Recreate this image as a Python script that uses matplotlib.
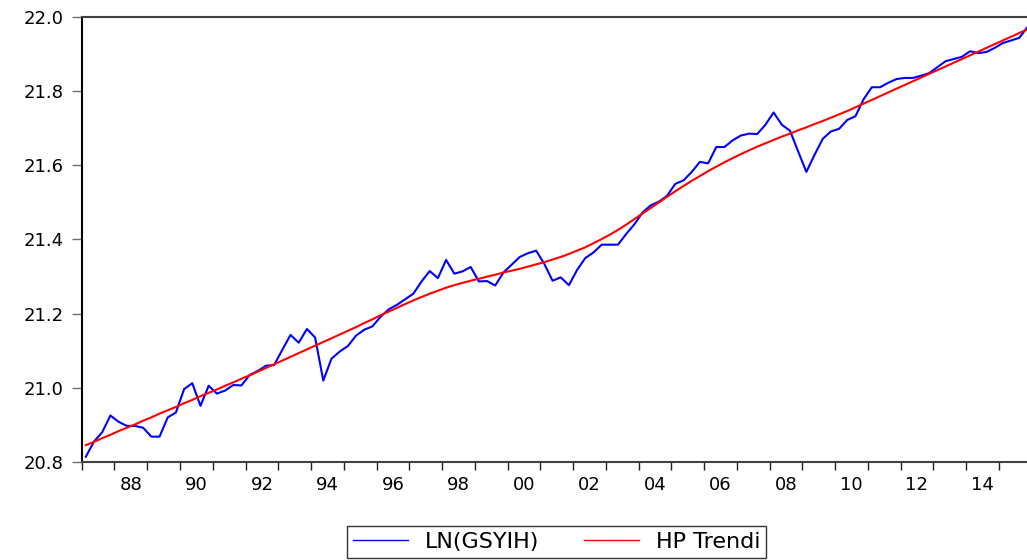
import numpy as np
import pandas as pd
import matplotlib
matplotlib.use("Agg")
from matplotlib import pyplot as plt

# quarterly sample 1987Q1 - 2015Q4
QUARTERS = pd.period_range("1987Q1", "2015Q4", freq="Q")

LN_GSYIH = [
    20.815, 20.856, 20.881, 20.926, 20.909, 20.898, 20.898, 20.893,
    20.869, 20.869, 20.921, 20.934, 20.997, 21.013, 20.952, 21.006,
    20.985, 20.993, 21.008, 21.007, 21.035, 21.046, 21.060, 21.062,
    21.103, 21.143, 21.122, 21.159, 21.136, 21.020, 21.079, 21.098,
    21.113, 21.141, 21.157, 21.166, 21.192, 21.212, 21.224, 21.239,
    21.254, 21.287, 21.315, 21.296, 21.345, 21.308, 21.314, 21.326,
    21.287, 21.288, 21.276, 21.311, 21.332, 21.353, 21.363, 21.370,
    21.334, 21.289, 21.298, 21.277, 21.318, 21.350, 21.365, 21.386,
    21.386, 21.386, 21.415, 21.441, 21.473, 21.492, 21.502, 21.518,
    21.550, 21.559, 21.582, 21.609, 21.605, 21.649, 21.649, 21.667,
    21.680, 21.685, 21.684, 21.709, 21.742, 21.709, 21.693, 21.637,
    21.582, 21.628, 21.671, 21.691, 21.698, 21.722, 21.732, 21.778,
    21.810, 21.810, 21.822, 21.832, 21.835, 21.835, 21.841, 21.848,
    21.864, 21.880, 21.886, 21.892, 21.907, 21.902, 21.905, 21.916,
    21.929, 21.936, 21.943, 21.972,
]

HP_TREND = [
    20.846, 20.855, 20.865, 20.874, 20.884, 20.893, 20.902, 20.912,
    20.921, 20.931, 20.940, 20.949, 20.959, 20.968, 20.978, 20.987,
    20.996, 21.006, 21.015, 21.025, 21.034, 21.044, 21.054, 21.064,
    21.074, 21.084, 21.094, 21.104, 21.114, 21.124, 21.134, 21.144,
    21.154, 21.164, 21.175, 21.185, 21.196, 21.206, 21.216, 21.226,
    21.236, 21.245, 21.254, 21.262, 21.270, 21.277, 21.283, 21.289,
    21.294, 21.300, 21.305, 21.311, 21.316, 21.321, 21.327, 21.333,
    21.339, 21.346, 21.353, 21.361, 21.370, 21.379, 21.390, 21.401,
    21.413, 21.426, 21.440, 21.455, 21.470, 21.485, 21.500, 21.515,
    21.530, 21.544, 21.558, 21.571, 21.584, 21.596, 21.608, 21.619,
    21.630, 21.640, 21.650, 21.659, 21.668, 21.677, 21.685, 21.694,
    21.702, 21.711, 21.719, 21.728, 21.737, 21.746, 21.756, 21.766,
    21.776, 21.786, 21.796, 21.806, 21.816, 21.826, 21.836, 21.846,
    21.856, 21.866, 21.876, 21.886, 21.896, 21.906, 21.916, 21.926,
    21.936, 21.946, 21.956, 21.966,
]

LABEL_YEARS = list(range(1988, 2015, 2))
Y_TICKS = [20.8, 21.0, 21.2, 21.4, 21.6, 21.8, 22.0]

if __name__ == "__main__":
    # each quarter drawn at the middle of its interval
    t = np.array([p.year + (p.quarter - 0.5) / 4 for p in QUARTERS])

    fig = plt.figure(figsize=(10.27, 5.6), dpi=100)
    ax = fig.add_axes([0.0796, 0.1745, 0.9248, 0.7957])

    ax.plot(t, LN_GSYIH, color="#0000ff", lw=1.5, label="LN(GSYIH)")
    ax.plot(t, HP_TREND, color="#ff0000", lw=1.5, label="HP Trendi")

    ax.set_xlim(1987, 2016)
    ax.set_ylim(20.8, 22.0)

    # yearly ticks, two-year labels centred on the year
    ax.set_xticks(range(1987, 2017))
    ax.set_xticklabels([])
    ax.set_xticks([y + 0.5 for y in LABEL_YEARS], minor=True)
    ax.set_xticklabels(["%02d" % (y % 100) for y in LABEL_YEARS], minor=True)
    ax.tick_params(axis="x", which="major", direction="out", length=6, width=1, color="#202020")
    ax.tick_params(axis="x", which="minor", length=0, pad=10, labelsize=13)

    ax.set_yticks(Y_TICKS)
    ax.set_yticklabels(["%.1f" % v for v in Y_TICKS])
    ax.tick_params(axis="y", direction="out", length=7, width=1, color="#707070", pad=6, labelsize=13)

    for side in ["left", "bottom", "top"]:
        ax.spines[side].set_linewidth(1.5)
    ax.spines["left"].set_color("black")
    ax.spines["bottom"].set_color("#404040")
    ax.spines["top"].set_color("#404040")
    ax.spines["right"].set_visible(False)

    leg = ax.legend(loc="center", bbox_to_anchor=(0.5, -0.179), ncol=2, fontsize=16,
                    frameon=True, fancybox=False, edgecolor="black", handlelength=2.5,
                    handletextpad=0.75, columnspacing=2.0, borderpad=0.25)
    leg.get_frame().set_linewidth(1)
    for line in leg.get_lines():
        line.set_linewidth(1)

    plt.savefig("out.png", dpi=100)
